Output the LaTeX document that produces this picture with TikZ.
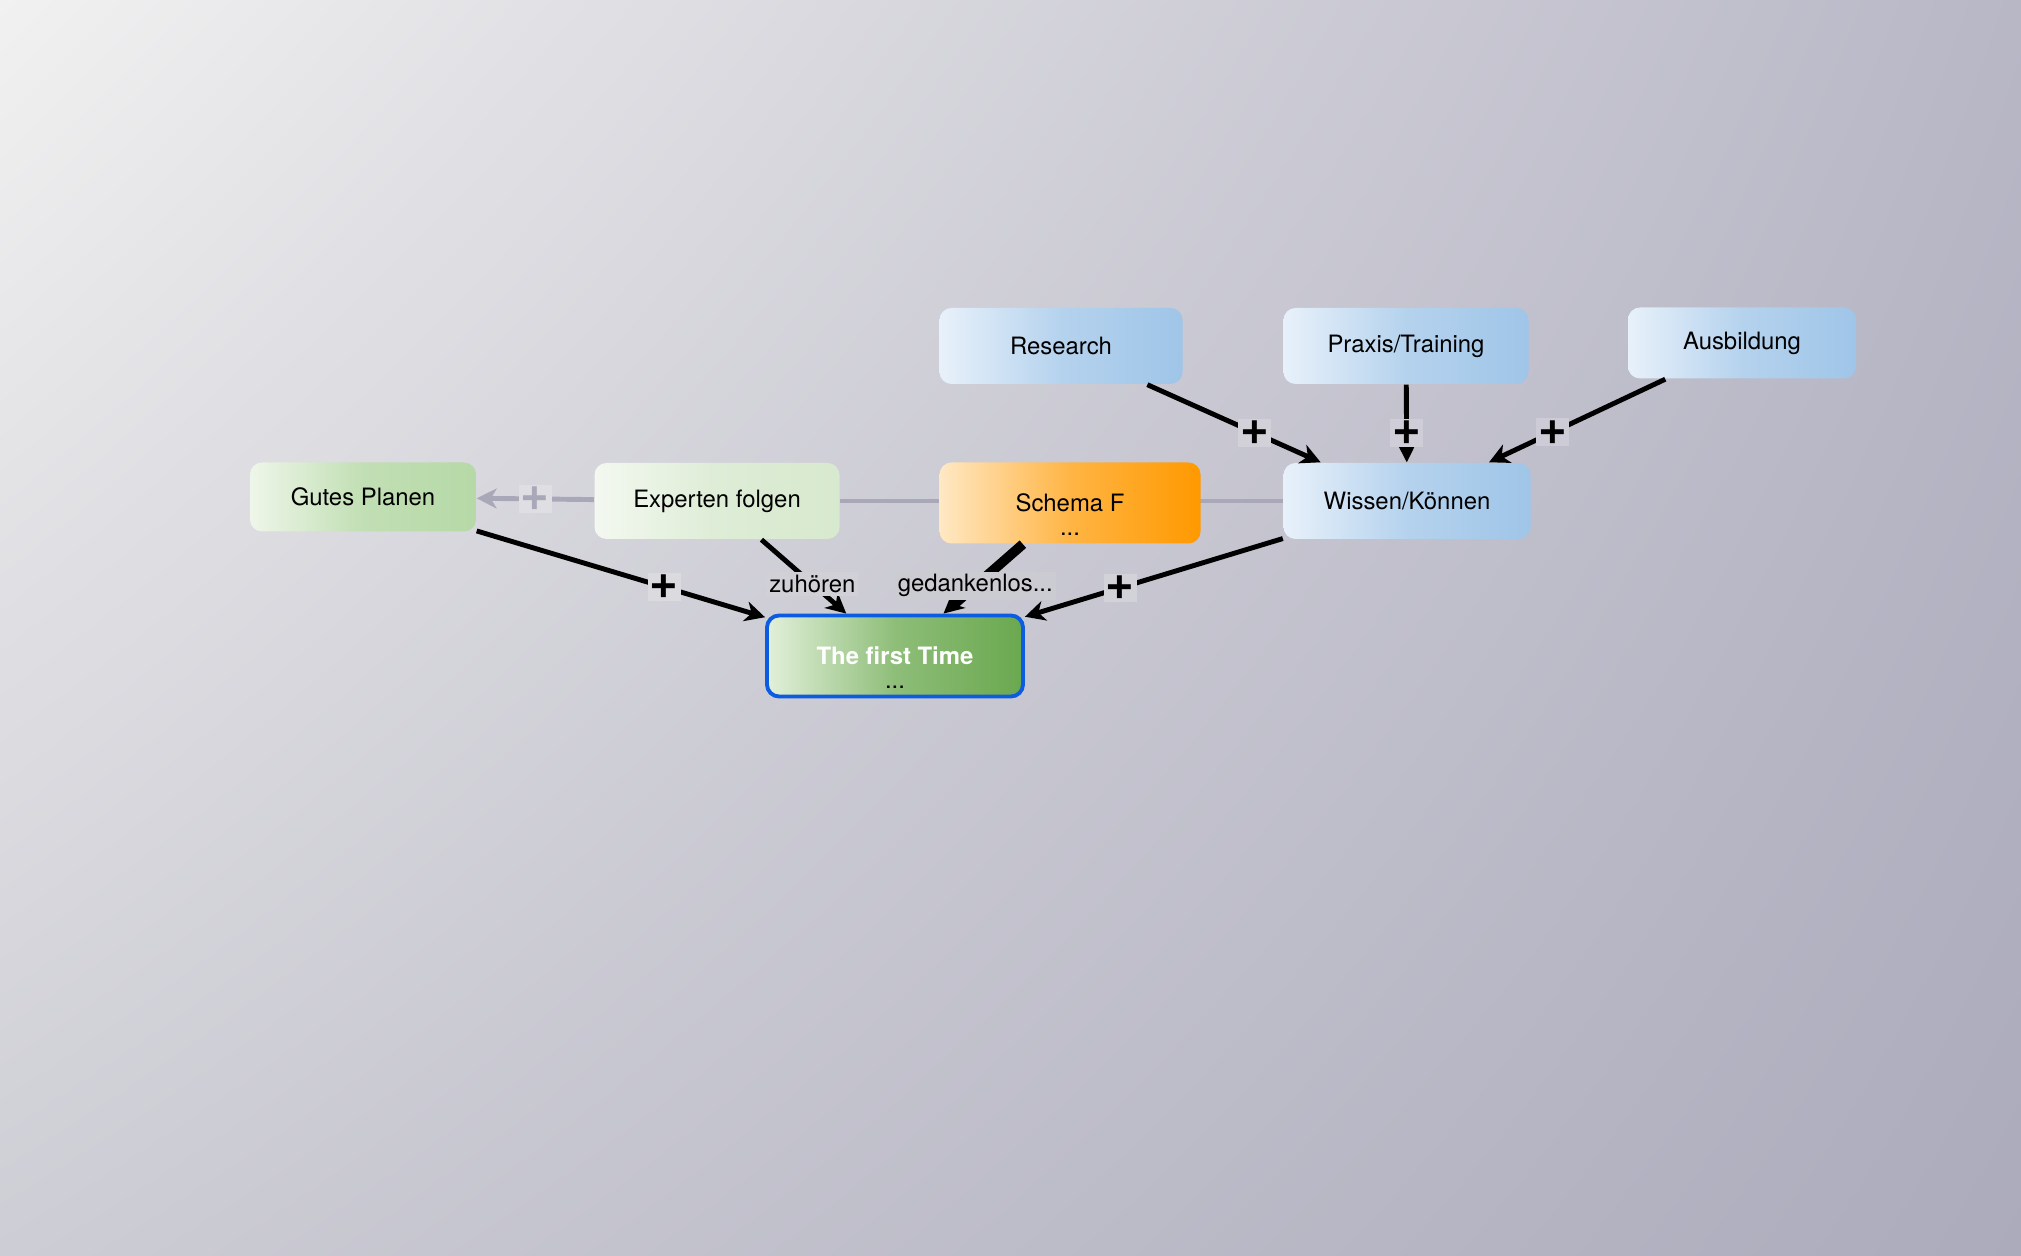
\documentclass[tikz,border=0pt]{standalone}
\usepackage{fontspec}
\setmainfont{TeX Gyre Heros}
\usetikzlibrary{arrows.meta,backgrounds,shadings}

\definecolor{bgUL}{HTML}{F1F1F1}
\definecolor{bgUR}{HTML}{B8B7C6}
\definecolor{bgLL}{HTML}{CDCDD5}
\definecolor{bgLR}{HTML}{ACABBC}
\definecolor{blueL}{HTML}{E8F1FA}
\definecolor{blueR}{HTML}{9FC5E8}
\definecolor{greenL}{HTML}{EEF6E9}
\definecolor{greenR}{HTML}{B6D9A7}
\definecolor{paleL}{HTML}{F3F8F0}
\definecolor{paleR}{HTML}{D7E9CE}
\definecolor{orangeL}{HTML}{FFE8C4}
\definecolor{orangeR}{HTML}{FF9900}
\definecolor{goalL}{HTML}{E2F0DA}
\definecolor{goalR}{HTML}{6AA84F}
\definecolor{goalBorder}{HTML}{0B5CE0}
\definecolor{lineGrey}{HTML}{A9A8B9}
% label boxes, a little lighter than the background around them
\definecolor{tagGrey}{HTML}{DEDEE3}
\definecolor{tagPlan}{HTML}{DADADF}
\definecolor{tagListen}{HTML}{D0D0D6}
\definecolor{tagSchema}{HTML}{CBCBD2}
\definecolor{tagWissen}{HTML}{D2D2D9}
\definecolor{tagResearch}{HTML}{D2D1DA}
\definecolor{tagPraxis}{HTML}{CFCED8}
\definecolor{tagAusb}{HTML}{CCCBD6}

\begin{document}
\begin{tikzpicture}[
    box/.style={rounded corners=0.12cm, inner sep=0pt, minimum height=0.76cm,
        font=\fontsize{6.8}{8}\selectfont},
    bluebox/.style={box, left color=blueL, right color=blueR, middle color=blueR!70!blueL},
    greenbox/.style={box, left color=greenL, right color=greenR, middle color=greenR!80!greenL},
    palebox/.style={box, left color=paleL, right color=paleR, middle color=paleR!75!paleL},
    orangebox/.style={box, left color=orangeL, right color=orangeR, middle color=orangeR!65!orangeL},
    goalbox/.style={box, left color=goalL, right color=goalR, middle color=goalR!70!goalL,
        draw=goalBorder, line width=1.1pt, text=white, font=\bfseries\fontsize{6.8}{8}\selectfont},
    dotsnode/.style={font=\fontsize{6.8}{8}\selectfont, inner sep=0pt, anchor=base},
    link/.style={line width=1.4pt, -{Stealth[length=2mm,width=2mm,inset=0.6mm]}},
    greylink/.style={line width=1.4pt, draw=lineGrey, -{Stealth[length=2mm,width=2mm,inset=0.6mm]}},
    plus/.style={font=\bfseries\fontsize{14}{14}\selectfont, fill=#1, inner sep=0.6pt,
        minimum width=0.26cm, minimum height=0.24cm},
    linklabel/.style={font=\fontsize{6.8}{8}\selectfont, fill=#1, inner sep=0.8pt},
]
    \useasboundingbox (0,0) rectangle (20.21,12.56);

    % Nodes
    \node[greenbox, minimum width=2.26cm, minimum height=0.69cm] (gutes) at (3.63,7.59) {Gutes Planen};
    \node[palebox, minimum width=2.45cm] (experten) at (7.17,7.55) {Experten folgen};
    \node[orangebox, minimum width=2.61cm, minimum height=0.81cm] (schema) at (10.70,7.53) {Schema F};
    \node[bluebox, minimum width=2.47cm] (wissen) at (14.07,7.55) {Wissen/Können};
    \node[bluebox, minimum width=2.43cm] (research) at (10.61,9.10) {Research};
    \node[bluebox, minimum width=2.45cm] (praxis) at (14.06,9.10) {Praxis/Training};
    \node[bluebox, minimum width=2.28cm, minimum height=0.71cm] (ausbildung) at (17.42,9.13) {Ausbildung};
    \node[goalbox, minimum width=2.56cm, minimum height=0.81cm] (first) at (8.95,6.00) {The first Time};
    \node[dotsnode] (schemaDots) at ([yshift=0.09cm]schema.south) {...};
    \node[dotsnode] (firstDots) at ([yshift=0.1cm]first.south) {...};

    % Background and grey connection behind the nodes
    \begin{pgfonlayer}{background}
        \shade[upper left=bgUL, upper right=bgUR, lower left=bgLL, lower right=bgLR]
            (0,0) rectangle (20.21,12.56);
        \draw[line width=1.4pt, lineGrey] (wissen) -- (experten);
    \end{pgfonlayer}

    % Connections
    \draw[greylink] (experten) -- node[plus=tagGrey, text=lineGrey, pos=0.5] {+} (gutes);
    \draw[link] (gutes) -- node[plus=tagPlan, pos=0.65] {+} (first);
    \draw[link] (experten) -- node[linklabel=tagListen, pos=0.6] {zuhören} (first);
    \draw[link, line width=2.8pt] (schema) -- node[linklabel=tagSchema, pos=0.6] {gedankenlos...} (first);
    \draw[link] (wissen) -- node[plus=tagWissen, pos=0.63] {+} (first);
    \draw[link] (research) -- node[plus=tagResearch, pos=0.62] {+} (wissen);
    \draw[link] (praxis) -- node[plus=tagPraxis, pos=0.62] {+} (wissen);
    \draw[link] (ausbildung) -- node[plus=tagAusb, pos=0.64] {+} (wissen);
\end{tikzpicture}
\end{document}
